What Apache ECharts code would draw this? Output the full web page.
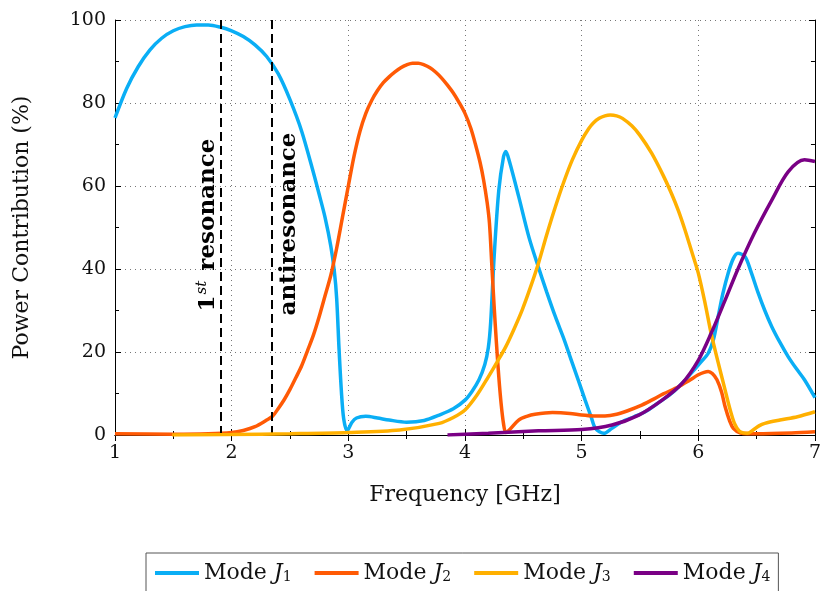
<!DOCTYPE html>
<html>
<head>
<meta charset="utf-8">
<title>Power Contribution by Mode</title>
<script src="https://cdn.jsdelivr.net/npm/echarts@6/dist/echarts.min.js"></script>
<style>
  html, body { margin: 0; padding: 0; background: #fff; }
  #chart { width: 824px; height: 591px; }
</style>
</head>
<body>
<div id="chart"></div>
<script>
// Frequency samples (GHz) and power contribution (%) for each characteristic mode
const j1Freq = [1.0, 1.1, 1.2, 1.3, 1.4, 1.5, 1.6, 1.7, 1.8, 1.9, 2.0, 2.1, 2.2, 2.3, 2.4, 2.5, 2.6, 2.7, 2.75, 2.8, 2.85, 2.88, 2.9, 2.92, 2.94, 2.96, 2.99, 3.03, 3.07, 3.15, 3.25, 3.35, 3.5, 3.65, 3.78, 3.9, 4.0, 4.06, 4.12, 4.17, 4.2, 4.22, 4.25, 4.29, 4.33, 4.35, 4.38, 4.46, 4.55, 4.63, 4.7, 4.775, 4.85, 4.92, 4.98, 5.03, 5.08, 5.12, 5.19, 5.26, 5.345, 5.45, 5.545, 5.65, 5.77, 5.86, 5.94, 6.02, 6.085, 6.13, 6.17, 6.21, 6.256, 6.3, 6.34, 6.4, 6.45, 6.51, 6.57, 6.63, 6.7, 6.77, 6.84, 6.91, 7.0];
const j1Vals = [76.4, 83.5, 88.8, 92.8, 95.6, 97.4, 98.4, 98.8, 98.8, 98.3, 97.4, 96.0, 94.0, 91.2, 87.0, 80.8, 73.2, 63.3, 58, 52.5, 45.5, 39.5, 33, 21, 10.8, 4, 1.0, 3.0, 4.1, 4.5, 4.1, 3.6, 3.1, 3.5, 4.8, 6.3, 8.4, 10.5, 13.3, 17, 21, 27, 43, 59, 67, 68.3, 66, 57.5, 47.5, 40.4, 34.5, 28.5, 23, 17.3, 12.5, 8.4, 4.5, 1.5, 0.4, 1.6, 3.2, 4.4, 5.6, 7.6, 10, 12.4, 14.9, 17.5, 19.7, 23, 28.5, 34, 39, 42.5, 43.8, 43, 39.5, 34.5, 30, 26.1, 22.3, 18.9, 16, 13.3, 9];

const j2Freq = [1.0, 1.5, 1.8, 2.0, 2.1, 2.2, 2.3, 2.35, 2.4, 2.45, 2.5, 2.55, 2.6, 2.65, 2.7, 2.75, 2.8, 2.85, 2.9, 2.95, 3.0, 3.05, 3.1, 3.15, 3.2, 3.25, 3.3, 3.35, 3.4, 3.45, 3.5, 3.55, 3.6, 3.65, 3.7, 3.75, 3.8, 3.85, 3.9, 3.95, 4.0, 4.05, 4.09, 4.13, 4.16, 4.19, 4.21, 4.23, 4.25, 4.27, 4.29, 4.31, 4.33, 4.35, 4.39, 4.46, 4.53, 4.6, 4.75, 4.9, 5.0, 5.1, 5.2, 5.3, 5.4, 5.5, 5.6, 5.7, 5.83, 5.92, 6.0, 6.05, 6.085, 6.12, 6.16, 6.2, 6.23, 6.27, 6.3, 6.36, 6.5, 6.8, 7.0];
const j2Vals = [0.3, 0.2, 0.3, 0.6, 1.1, 2.0, 3.6, 4.5, 6.4, 8.5, 11.0, 13.8, 16.7, 20.3, 24, 28.5, 33.5, 38.5, 45, 52.5, 60, 67.3, 73.2, 77.5, 80.6, 83, 84.9, 86.3, 87.5, 88.5, 89.2, 89.6, 89.6, 89.2, 88.5, 87.4, 86, 84.3, 82.4, 80.1, 77.5, 73.9, 70, 65.6, 61.4, 56, 51, 41, 31, 22, 14, 7.5, 2.8, 0.6, 1.5, 3.6, 4.5, 5.0, 5.4, 5.2, 4.8, 4.6, 4.6, 5.0, 5.9, 7.0, 8.4, 9.9, 11.6, 13.1, 14.5, 15.1, 15.3, 14.8, 13.3, 10.3, 6.8, 3.3, 1.6, 0.5, 0.3, 0.5, 0.8];

const j3Freq = [1.49, 2.0, 2.5, 3.0, 3.44, 3.78, 3.9, 4.0, 4.1, 4.2, 4.28, 4.35, 4.42, 4.49, 4.56, 4.63, 4.7, 4.775, 4.85, 4.92, 5.0, 5.06, 5.1, 5.15, 5.2, 5.245, 5.3, 5.35, 5.43, 5.5, 5.6, 5.7, 5.77, 5.83, 5.886, 5.94, 6.0, 6.06, 6.11, 6.17, 6.23, 6.27, 6.31, 6.35, 6.385, 6.42, 6.47, 6.52, 6.57, 6.7, 6.85, 7.0];
const j3Vals = [0, 0.1, 0.3, 0.6, 1.2, 2.8, 4.2, 6, 9.5, 14, 17.8, 21.3, 25.5, 30.1, 35.5, 41.4, 48.2, 55, 61.2, 66.3, 71, 73.8, 75.2, 76.3, 76.9, 77.1, 76.9, 76.3, 74.5, 72.2, 67.9, 62.5, 58.2, 54, 49.4, 44.5, 39, 31.5, 24.5, 17.5, 10.8, 6.4, 2.8, 1.0, 0.5, 0.4, 1.2, 2.2, 2.8, 3.6, 4.4, 5.6];

const j4Freq = [3.85, 4.2, 4.63, 5.0, 5.26, 5.49, 5.69, 5.86, 6.0, 6.11, 6.23, 6.34, 6.48, 6.63, 6.77, 6.91, 7.0];
const j4Vals = [0, 0.4, 1.0, 1.3, 2.4, 4.8, 8.4, 12.4, 18, 24.5, 32.5, 40, 48.6, 56.6, 63.4, 66.3, 65.9];

// Reference frequencies marked with dashed lines (GHz)
const resonanceFreq = 1.91;
const antiresonanceFreq = 2.34;

const seriesNames = ['Mode J1', 'Mode J2', 'Mode J3', 'Mode J4'];
const seriesColors = ['#0aaef5', '#ff5a05', '#ffb000', '#7a0085'];
const freqs = [j1Freq, j2Freq, j3Freq, j4Freq];
const vals = [j1Vals, j2Vals, j3Vals, j4Vals];

const serif = 'DejaVu Serif';

const pair = (xs, ys) => xs.map((x, i) => [x, ys[i]]);

const chart = echarts.init(document.getElementById('chart'), null, { renderer: 'canvas' });

const series = seriesNames.map((name, k) => ({
  name: name,
  type: 'line',
  data: pair(freqs[k], vals[k]),
  showSymbol: false,
  smooth: 0.3,
  lineStyle: { width: 3.5, color: seriesColors[k] },
  itemStyle: { color: seriesColors[k] },
  z: 3 + k,
  animation: false
}));

// Dashed reference lines
series.push({
  name: 'markers',
  type: 'line',
  data: [],
  silent: true,
  markLine: {
    symbol: 'none',
    silent: true,
    label: { show: false },
    lineStyle: { type: [9, 5], color: '#000', width: 2 },
    data: [{ xAxis: resonanceFreq }, { xAxis: antiresonanceFreq }],
    animation: false
  }
});

const tickStyle = { show: true, inside: true, length: 6, lineStyle: { color: '#000', width: 1 } };
const minorStyle = { show: true, length: 4, splitNumber: 2, lineStyle: { color: '#000', width: 1 } };
const gridDots = { show: true, lineStyle: { type: [1, 4], color: '#777', width: 1 } };

chart.setOption({
  animation: false,
  backgroundColor: '#fff',
  grid: { left: 115, right: 7, top: 20, bottom: 156 },
  xAxis: [
    {
      type: 'value', min: 1, max: 7, interval: 1, position: 'bottom',
      name: 'Frequency [GHz]', nameLocation: 'middle', nameGap: 49,
      nameTextStyle: { fontFamily: serif, fontSize: 22, color: '#111' },
      axisLine: { show: true, lineStyle: { color: '#000', width: 1 } },
      axisTick: tickStyle, minorTick: minorStyle,
      axisLabel: { fontFamily: serif, fontSize: 19, color: '#111', margin: 9 },
      splitLine: gridDots
    },
    {
      type: 'value', min: 1, max: 7, interval: 1, position: 'top',
      axisLine: { show: true, lineStyle: { color: '#000', width: 1 } },
      axisTick: tickStyle, minorTick: minorStyle,
      axisLabel: { show: false }, splitLine: { show: false }
    }
  ],
  yAxis: [
    {
      type: 'value', min: 0, max: 100, interval: 20, position: 'left',
      name: 'Power Contribution (%)', nameLocation: 'middle', nameGap: 82,
      nameTextStyle: { fontFamily: serif, fontSize: 22, color: '#111' },
      axisLine: { show: true, lineStyle: { color: '#000', width: 1 } },
      axisTick: tickStyle, minorTick: minorStyle,
      axisLabel: { fontFamily: serif, fontSize: 19, color: '#111', margin: 9 },
      splitLine: gridDots
    },
    {
      type: 'value', min: 0, max: 100, interval: 20, position: 'right',
      axisLine: { show: true, lineStyle: { color: '#000', width: 1 } },
      axisTick: tickStyle, minorTick: minorStyle,
      axisLabel: { show: false }, splitLine: { show: false }
    }
  ],
  legend: {
    data: seriesNames,
    left: 146, top: 553,
    orient: 'horizontal',
    icon: 'rect', itemWidth: 44, itemHeight: 4, itemGap: 23,
    padding: [9, 8, 14, 9],
    borderColor: '#555', borderWidth: 1,
    formatter: name => '{n|Mode }{i|J}{s|' + name.slice(-1) + '}',
    textStyle: {
      rich: {
        n: { fontFamily: serif, fontSize: 22, color: '#111' },
        i: { fontFamily: serif, fontSize: 22, fontStyle: 'italic', color: '#111' },
        s: { fontFamily: serif, fontSize: 14, color: '#111', padding: [9, 0, 0, 0] }
      }
    }
  },
  graphic: [
    {
      type: 'text', x: 208, y: 225, rotation: Math.PI / 2, z: 10,
      style: {
        text: '{b|1}{sup|st}{b| resonance}',
        align: 'center', verticalAlign: 'middle',
        rich: {
          b: { fontFamily: serif, fontSize: 23, fontWeight: 'bold', fill: '#000' },
          sup: { fontFamily: serif, fontSize: 15, fontStyle: 'italic', fill: '#000', padding: [0, 2, 11, 1] }
        }
      }
    },
    {
      type: 'text', x: 289, y: 224, rotation: Math.PI / 2, z: 10,
      style: {
        text: 'antiresonance',
        align: 'center', verticalAlign: 'middle',
        fontFamily: serif, fontSize: 23, fontWeight: 'bold', fill: '#000'
      }
    }
  ],
  series: series
});
</script>
</body>
</html>
